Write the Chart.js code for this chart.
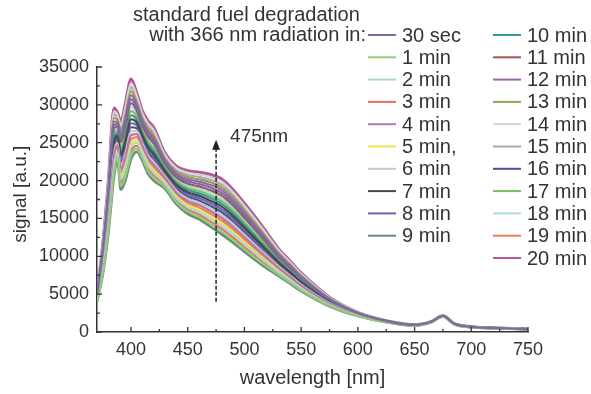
<!DOCTYPE html>
<html>
<head>
<meta charset="utf-8">
<script src="https://cdn.jsdelivr.net/npm/chart.js@4.4.1/dist/chart.umd.min.js"></script>
<style>
  html, body { margin: 0; padding: 0; background: #fff; }
  #wrap { width: 591px; height: 394px; }
</style>
</head>
<body>
<div id="wrap"><canvas id="myChart" width="591" height="394"></canvas></div>
<script>
// wavelength grid (nm)
const wavelength = [370, 375, 380, 385, 388, 391, 395, 400, 405, 410, 415, 420, 430, 440, 450, 460, 470, 480, 490, 500, 515, 530, 540, 550, 575, 600, 625, 650, 665, 675, 685, 700, 725, 750];

const labels = ['30 sec', '1 min', '2 min', '3 min', '4 min', '5 min,', '6 min', '7 min', '8 min', '9 min',
    '10 min', '11 min', '12 min', '13 min', '14 min', '15 min', '16 min', '17 min', '18 min', '19 min', '20 min'];

const colors = ['#7070a8', '#98c878', '#a8d8d8', '#e87060', '#b878a8', '#f0e050', '#c8c8c8', '#484848', '#6868b0', '#609078',
    '#389898', '#a05858', '#a060b0', '#98a050', '#d4d4d4', '#a8a8a8', '#505090', '#78c060', '#b0d8e0', '#e88060', '#b05898'];

// signal [a.u.] per exposure time
const sec30 = [4900, 10500, 18250, 27330, 27450, 25550, 27650, 30750, 29650, 27550, 26150, 25250, 22430, 20650, 19880, 19550, 19080, 18380, 17050, 15400, 12800, 10100, 8650, 7200, 4300, 2480, 1450, 930, 1380, 2130, 1080, 680, 510, 388];
const min1 = [4060, 7700, 13350, 20960, 23110, 19250, 20510, 23330, 24190, 22930, 21250, 20350, 19140, 17150, 15890, 15210, 14250, 13270, 12150, 10920, 9160, 7580, 6550, 5520, 3460, 2130, 1310, 860, 1310, 2060, 1010, 624, 482, 352];
const min2 = [4180, 8100, 14050, 21870, 23730, 20150, 21530, 24390, 24970, 23590, 21950, 21050, 19610, 17650, 16460, 15830, 14940, 14000, 12850, 11560, 9680, 7940, 6850, 5760, 3580, 2180, 1330, 870, 1320, 2070, 1020, 632, 486, 358];
const min3 = [4120, 7900, 13700, 21410, 23420, 19700, 21020, 23860, 24580, 23260, 21600, 20700, 19370, 17400, 16170, 15520, 14590, 13630, 12500, 11240, 9420, 7760, 6700, 5640, 3520, 2150, 1320, 860, 1310, 2060, 1010, 628, 484, 355];
const min4 = [4360, 8700, 15100, 23230, 24660, 21500, 23060, 25980, 26140, 24580, 23000, 22100, 20310, 18400, 17310, 16760, 15970, 15090, 13900, 12520, 10460, 8480, 7300, 6120, 3760, 2250, 1360, 880, 1330, 2080, 1030, 644, 492, 365];
const min5 = [4240, 8300, 14400, 22320, 24040, 20600, 22040, 24920, 25360, 23920, 22300, 21400, 19840, 17900, 16740, 16140, 15280, 14360, 13200, 11880, 9940, 8120, 7000, 5880, 3640, 2200, 1340, 870, 1320, 2070, 1020, 636, 488, 360];
const min6 = [4420, 8900, 15450, 23690, 24970, 21950, 23570, 26510, 26530, 24910, 23350, 22450, 20550, 18650, 17600, 17070, 16320, 15460, 14250, 12840, 10720, 8660, 7450, 6240, 3820, 2280, 1370, 890, 1340, 2090, 1040, 648, 494, 368];
const min7 = [4600, 9500, 16500, 25050, 25900, 23300, 25100, 28100, 27700, 25900, 24400, 23500, 21250, 19400, 18450, 18000, 17350, 16550, 15300, 13800, 11500, 9200, 7900, 6600, 4000, 2350, 1400, 900, 1350, 2100, 1050, 660, 500, 375];
const min8 = [4540, 9300, 16150, 24600, 25590, 22850, 24590, 27570, 27310, 25570, 24050, 23150, 21020, 19150, 18170, 17690, 17010, 16190, 14950, 13480, 11240, 9020, 7750, 6480, 3940, 2330, 1390, 900, 1350, 2100, 1050, 656, 498, 372];
const min9 = [4000, 7500, 13000, 20500, 22800, 18800, 20000, 22800, 23800, 22600, 20900, 20000, 18900, 16900, 15600, 14900, 13900, 12900, 11800, 10600, 8900, 7400, 6400, 5400, 3400, 2100, 1300, 850, 1300, 2050, 1000, 620, 480, 350];
const min10 = [4660, 9700, 16850, 25510, 26210, 23750, 25610, 28630, 28090, 26230, 24750, 23850, 21490, 19650, 18740, 18310, 17700, 16920, 15650, 14120, 11760, 9380, 8050, 6720, 4060, 2380, 1410, 910, 1360, 2110, 1060, 664, 502, 378];
const min11 = [4840, 10300, 17900, 26870, 27140, 25100, 27140, 30220, 29260, 27220, 25800, 24900, 22190, 20400, 19590, 19240, 18730, 18010, 16700, 15080, 12540, 9920, 8500, 7080, 4240, 2450, 1440, 920, 1370, 2120, 1070, 676, 508, 385];
const min12 = [4960, 10700, 18600, 27780, 27760, 26000, 28160, 31280, 30040, 27880, 26500, 25600, 22660, 20900, 20160, 19860, 19420, 18740, 17400, 15720, 13060, 10280, 8800, 7320, 4360, 2500, 1460, 930, 1380, 2130, 1080, 684, 512, 390];
const min13 = [5020, 10900, 18950, 28240, 28070, 26450, 28670, 31810, 30430, 28210, 26850, 25950, 22900, 21150, 20450, 20170, 19770, 19110, 17750, 16040, 13320, 10460, 8950, 7440, 4420, 2530, 1470, 940, 1390, 2140, 1090, 688, 514, 392];
const min14 = [5140, 11300, 19650, 29150, 28690, 27350, 29690, 32870, 31210, 28870, 27550, 26650, 23370, 21650, 21020, 20790, 20460, 19840, 18450, 16680, 13840, 10820, 9250, 7680, 4540, 2580, 1490, 950, 1400, 2150, 1100, 696, 518, 398];
const min15 = [5080, 11100, 19300, 28690, 28380, 26900, 29180, 32340, 30820, 28540, 27200, 26300, 23130, 21400, 20730, 20480, 20110, 19470, 18100, 16360, 13580, 10640, 9100, 7560, 4480, 2550, 1480, 940, 1390, 2140, 1090, 692, 516, 395];
const min16 = [4480, 9100, 15800, 24140, 25280, 22400, 24080, 27040, 26920, 25240, 23700, 22800, 20780, 18900, 17880, 17380, 16660, 15820, 14600, 13160, 10980, 8840, 7600, 6360, 3880, 2300, 1380, 890, 1340, 2090, 1040, 652, 496, 370];
const min17 = [4720, 9900, 17200, 25960, 26520, 24200, 26120, 29160, 28480, 26560, 25100, 24200, 21720, 19900, 19020, 18620, 18040, 17280, 16000, 14440, 12020, 9560, 8200, 6840, 4120, 2400, 1420, 910, 1360, 2110, 1060, 668, 504, 380];
const min18 = [4780, 10100, 17550, 26420, 26830, 24650, 26630, 29690, 28870, 26890, 25450, 24550, 21960, 20150, 19310, 18930, 18390, 17650, 16350, 14760, 12280, 9740, 8350, 6960, 4180, 2430, 1430, 920, 1370, 2120, 1070, 672, 506, 382];
const min19 = [4300, 8500, 14750, 22780, 24350, 21050, 22550, 25450, 25750, 24250, 22650, 21750, 20080, 18150, 17030, 16450, 15630, 14730, 13550, 12200, 10200, 8300, 7150, 6000, 3700, 2230, 1350, 880, 1330, 2080, 1030, 640, 490, 362];
const min20 = [5200, 11500, 20000, 29600, 29000, 27800, 30200, 33400, 31600, 29200, 27900, 27000, 23600, 21900, 21300, 21100, 20800, 20200, 18800, 17000, 14100, 11000, 9400, 7800, 4600, 2600, 1500, 950, 1400, 2150, 1100, 700, 520, 400];

const series = [sec30, min1, min2, min3, min4, min5, min6, min7, min8, min9, min10,
    min11, min12, min13, min14, min15, min16, min17, min18, min19, min20];

const xTicks = [400, 450, 500, 550, 600, 650, 700, 750];
const xMinor = [425, 475, 525, 575, 625, 675, 725];
const yTicks = [0, 5000, 10000, 15000, 20000, 25000, 30000, 35000];
const yMinor = [2500, 7500, 12500, 17500, 22500, 27500, 32500];

// arrow marking 475 nm
const arrowAt = 475;
const arrowFrom = 4000;
const arrowTo = 25400;
const arrowLabel = '475nm';

const legendTitle = ['standard fuel degradation', 'with 366 nm radiation in:'];

const FONT = "'Liberation Sans', Arial, sans-serif";
const INK = '#333';

const decor = {
    id: 'decor',
    afterDraw(chart) {
        const {ctx, chartArea: a, scales: {x, y}} = chart;
        ctx.save();

        // inward tick marks
        ctx.strokeStyle = INK;
        ctx.lineWidth = 1.3;
        ctx.beginPath();
        xTicks.forEach(v => { const p = x.getPixelForValue(v); ctx.moveTo(p, a.bottom); ctx.lineTo(p, a.bottom - 5); });
        xMinor.forEach(v => { const p = x.getPixelForValue(v); ctx.moveTo(p, a.bottom); ctx.lineTo(p, a.bottom - 3); });
        yTicks.forEach(v => { const p = y.getPixelForValue(v); ctx.moveTo(a.left, p); ctx.lineTo(a.left + 5, p); });
        yMinor.forEach(v => { const p = y.getPixelForValue(v); ctx.moveTo(a.left, p); ctx.lineTo(a.left + 3, p); });
        ctx.stroke();

        // dashed arrow
        const ax = x.getPixelForValue(arrowAt);
        const y0 = y.getPixelForValue(arrowFrom);
        const y1 = y.getPixelForValue(arrowTo);
        ctx.strokeStyle = '#222';
        ctx.lineWidth = 1.5;
        ctx.setLineDash([4, 2]);
        ctx.beginPath();
        ctx.moveTo(ax, y0);
        ctx.lineTo(ax, y1 + 9);
        ctx.stroke();
        ctx.setLineDash([]);
        ctx.fillStyle = '#222';
        ctx.beginPath();
        ctx.moveTo(ax, y1);
        ctx.lineTo(ax - 4, y1 + 10);
        ctx.lineTo(ax + 4, y1 + 10);
        ctx.closePath();
        ctx.fill();
        ctx.fillStyle = INK;
        ctx.font = '19px ' + FONT;
        ctx.textBaseline = 'middle';
        ctx.textAlign = 'left';
        ctx.fillText(arrowLabel, ax + 14, y1 - 3);

        // legend
        ctx.font = '20px ' + FONT;
        ctx.fillText(legendTitle[0], 133, 15);
        ctx.textAlign = 'right';
        ctx.fillText(legendTitle[1], 366, 35);
        ctx.textAlign = 'left';
        chart.data.datasets.forEach((ds, i) => {
            const right = i >= 10;
            const row = right ? i - 10 : i;
            const ly = 35 + row * 22.3;
            const lx = right ? 493 : 368;
            ctx.strokeStyle = ds.borderColor;
            ctx.lineWidth = 2;
            ctx.beginPath();
            ctx.moveTo(lx, ly);
            ctx.lineTo(lx + 28, ly);
            ctx.stroke();
            ctx.fillStyle = INK;
            ctx.fillText(ds.label, lx + 34, ly + 1);
        });
        ctx.restore();
    }
};

new Chart(document.getElementById('myChart'), {
    type: 'line',
    data: {
        datasets: series.map((vals, i) => ({
            label: labels[i],
            data: vals.map((v, k) => ({x: wavelength[k], y: v})),
            borderColor: colors[i],
            borderWidth: i === 20 ? 3 : (i === 9 ? 2.6 : 2.2),
            pointRadius: 0,
            cubicInterpolationMode: 'monotone',
            fill: false
        }))
    },
    options: {
        responsive: false,
        animation: false,
        events: [],
        layout: {padding: {left: 0, top: 67, right: 63, bottom: 0}},
        plugins: {legend: {display: false}, tooltip: {enabled: false}},
        scales: {
            x: {
                type: 'linear',
                min: 370,
                max: 750,
                afterBuildTicks: s => { s.ticks = xTicks.map(v => ({value: v})); },
                afterFit: s => { s.height = 62; },
                grid: {display: false, drawTicks: false},
                border: {display: true, color: INK, width: 1.5},
                ticks: {color: INK, font: {family: FONT, size: 18}, padding: 7, maxRotation: 0, callback: v => String(v)},
                title: {display: true, text: 'wavelength [nm]', color: INK, font: {family: FONT, size: 20}, padding: 4}
            },
            y: {
                min: 0,
                max: 35000,
                afterBuildTicks: s => { s.ticks = yTicks.map(v => ({value: v})); },
                afterFit: s => { s.width = 97; },
                grid: {display: false, drawTicks: false},
                border: {display: true, color: INK, width: 1.5},
                ticks: {color: INK, font: {family: FONT, size: 18}, padding: 8, callback: v => String(v)},
                title: {display: true, text: '  signal [a.u.]', color: INK, font: {family: FONT, size: 19}, padding: 9}
            }
        }
    },
    plugins: [decor]
});
</script>
</body>
</html>
